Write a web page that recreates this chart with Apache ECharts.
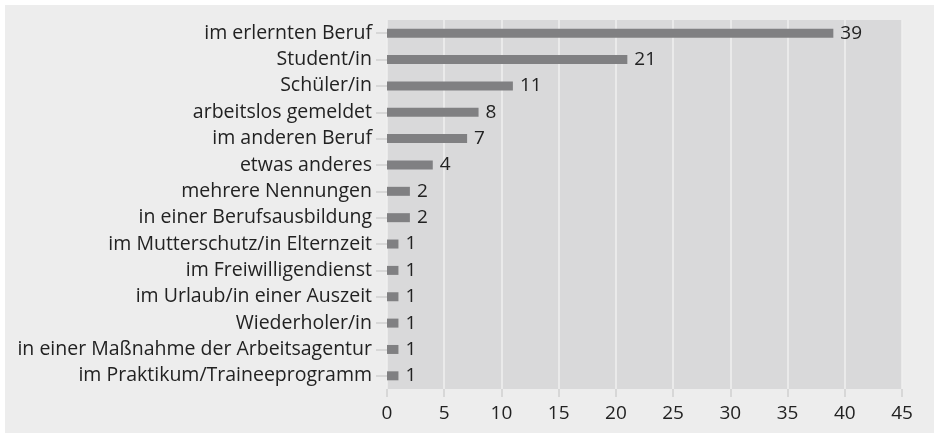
<!DOCTYPE html>
<html><head><meta charset="utf-8">
<script src="https://cdn.jsdelivr.net/npm/echarts@6/dist/echarts.min.js"></script>
<style>html,body{margin:0;padding:0;background:#fff}#c{width:934px;height:433px}</style>
</head><body><div id="c"></div>
<script>
const categories = ["im erlernten Beruf","Student/in","Schüler/in","arbeitslos gemeldet","im anderen Beruf","etwas anderes","mehrere Nennungen","in einer Berufsausbildung","im Mutterschutz/in Elternzeit","im Freiwilligendienst","im Urlaub/in einer Auszeit","Wiederholer/in","in einer Maßnahme der Arbeitsagentur","im Praktikum/Traineeprogramm"];
const values = [39,21,11,8,7,4,2,2,1,1,1,1,1,1];
const xTicks = [0,5,10,15,20,25,30,35,40,45];
const font = "'Open Sans', sans-serif";
const chart = echarts.init(document.getElementById('c'));
chart.setOption({
  backgroundColor: '#ffffff',
  animation: false,
  graphic: [{type:'rect', z:-10, silent:true, shape:{x:5,y:5,width:929,height:428}, style:{fill:'#ededed'}}],
  grid: {left:387, right:32, top:20, bottom:44, show:true, backgroundColor:'#d9d9da', borderWidth:0},
  xAxis: {type:'value', min:xTicks[0], max:xTicks[xTicks.length-1], interval:5,
    axisLine:{show:false},
    axisTick:{show:true, length:8, lineStyle:{color:'#cfcfcf', width:1.5}},
    axisLabel:{color:'#222', fontSize:19, fontFamily:font, margin:15},
    splitLine:{show:true, lineStyle:{color:'#efefef', width:1.5}}
  },
  yAxis: {type:'category', data:categories, inverse:true,
    axisLine:{show:false},
    axisTick:{show:true, alignWithLabel:true, length:11, lineStyle:{color:'#cfcfcf', width:1.5}},
    axisLabel:{color:'#222', fontSize:19.5, fontFamily:font, margin:15}
  },
  series: [{type:'bar', data:values, barWidth:9, itemStyle:{color:'#808082'},
    label:{show:true, position:'right', distance:7, color:'#222', fontSize:19, fontFamily:font}}]
});
</script></body></html>
